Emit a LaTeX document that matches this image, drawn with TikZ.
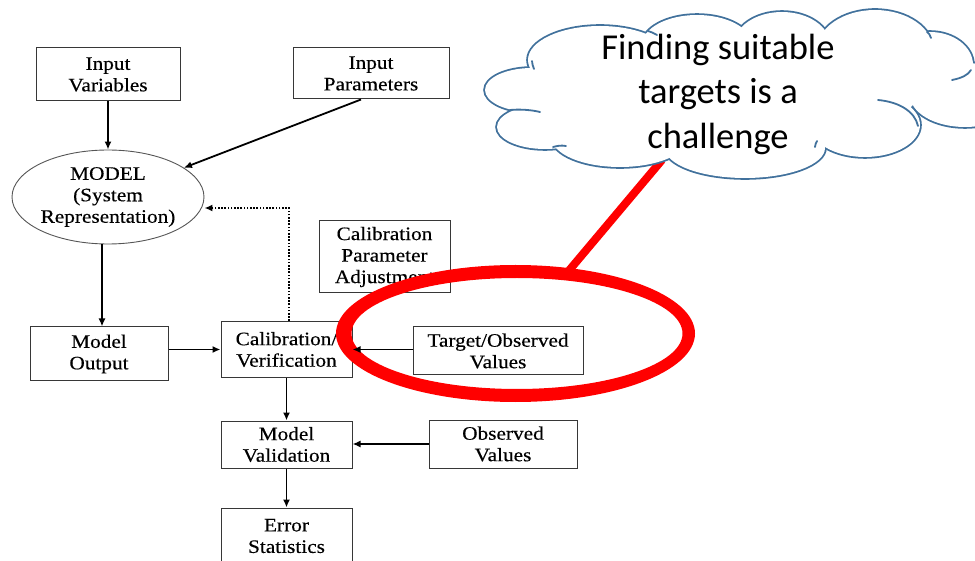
\documentclass[tikz,border=0pt]{standalone}
\usepackage{fontspec}
\setmainfont{Liberation Serif}[FakeStretch=1.12,FakeBold=0.4]
\newfontfamily\calloutfont{Carlito}
\usetikzlibrary{arrows.meta,shapes.geometric}

\definecolor{boxline}{RGB}{55,55,55}
\definecolor{cloudline}{RGB}{65,113,156}
\definecolor{hilite}{RGB}{255,0,0}

\begin{document}
\begin{tikzpicture}[x=1pt,y=-1pt,
  procbox/.style={draw=boxline, line width=1pt, inner sep=0pt, align=center,
                  font=\fontsize{19}{21.5}\selectfont},
  flow/.style={line width=1.8pt, -{Latex[length=8pt,width=7pt]}},
  feedback/.style={line width=1.6pt, dash pattern=on 1.6pt off 1.6pt,
                   -{Latex[length=8pt,width=7pt]}},
  cloudedge/.style={draw=cloudline, line width=1.8pt, line cap=round},
]
\useasboundingbox (0,0) rectangle (975,561);
\clip (0,0) rectangle (975,561);

% ---------- process boxes ----------
\node[procbox, minimum width=144pt, minimum height=53pt] (invar) at (108,74.5) {Input\\Variables};
\node[procbox, minimum width=156pt, minimum height=51pt] (inpar) at (371,73.5) {Input\\Parameters};
\node[draw=boxline!85, ellipse, line width=0.9pt, minimum width=192pt, minimum height=94pt,
      inner sep=0pt, align=center, font=\fontsize{19}{21.5}\selectfont]
      (model) at (108,197) {MODEL\\(System\\Representation)};
\node[procbox, minimum width=131pt, minimum height=72pt] (cpa) at (384.5,257) {Calibration\\Parameter\\Adjustment};
\node[procbox, minimum width=138pt, minimum height=54pt] (mout) at (99,354) {Model\\Output};
\node[procbox, minimum width=131pt, minimum height=56pt] (calver) at (286.5,349.5) {Calibration/\\Verification};
\node[procbox, minimum width=170pt, minimum height=48pt] (target) at (498,351) {Target/Observed\\Values};
\node[procbox, minimum width=131pt, minimum height=47pt] (mval) at (286.5,444.5) {Model\\Validation};
\node[procbox, minimum width=148pt, minimum height=48pt] (obs) at (503,444) {Observed\\Values};
\node[procbox, minimum width=131pt, minimum height=56pt] (err) at (286.5,536) {Error\\Statistics};

% ---------- connectors ----------
\draw[flow] (invar.south) -- (model.north);
\draw[flow] ([xshift=-10pt]inpar.south) -- (model);
\draw[flow] ([xshift=-6pt]model.south) -- ([xshift=-6pt]model.south |- mout.north);
\draw[flow] (mout.east |- calver.west) -- (calver.west);
\draw[flow] (calver.south) -- (mval.north);
\draw[flow] (obs.west) -- (obs.west -| mval.east);
\draw[flow] (mval.south) -- (err.north);
\draw[feedback] ([xshift=2.5pt]calver.north) |- ([yshift=-11pt]model.east);

% ---------- red highlight ring and pointer ----------
\node[ellipse, minimum width=345pt, minimum height=125pt, inner sep=0pt] (ring) at (516,333.5) {};
\fill[hilite, even odd rule]
  (515.5,333.5) ellipse [x radius=179.5, y radius=68.5]
  (517,333.5) ellipse [x radius=165.5, y radius=55.5];
\coordinate (tail) at (662,160);
\draw[hilite, line width=8pt] (tail) -- (ring);
\draw[flow] (target.west |- calver.east) -- (calver.east);

% ---------- thought cloud ----------
\def\bumps{532/90/47/22, 600/60/72/34, 697/45/55/30, 782/45/48/33, 875/50/58/40,
           930/65/43/33, 965/95/55/32, 865/125/55/32, 745/148/80/30, 620/138/68/29,
           545/127/48/22}
\foreach \cx/\cy/\rx/\ry in \bumps
  \draw[cloudline, line width=3.6pt] (\cx,\cy) ellipse [x radius=\rx, y radius=\ry];
\foreach \cx/\cy/\rx/\ry in \bumps
  \fill[white] (\cx,\cy) ellipse [x radius=\rx, y radius=\ry];
\fill[white] (730,90) ellipse [x radius=190, y radius=55];
% short inner arcs of the cloud
\draw[cloudedge] (878,100) .. controls (900,102) and (915,112) .. (918,126);
\draw[cloudedge] (952,80) .. controls (962,78) and (968,75) .. (971,70);
\draw[cloudedge] (510,110) .. controls (520,109) and (532,110) .. (540,112);
\draw[cloudedge] (553,147) .. controls (557,146) and (561,145) .. (566,146);
\draw[cloudedge] (815,147) .. controls (815,145) and (816,143) .. (817,141);
\draw[cloudedge] (532,61) .. controls (532,64) and (533,66) .. (534,69);
\draw[cloudedge] (648,31) .. controls (651,32) and (654,33) .. (657,35);
\draw[cloudedge] (927,32) .. controls (929,33) and (930,35) .. (931,38);

\node[font=\calloutfont\fontsize{36.5}{44.5}\selectfont, align=center, inner sep=0pt]
  (note) at (718,94) {Finding suitable\\targets is a\\challenge};
\end{tikzpicture}
\end{document}
